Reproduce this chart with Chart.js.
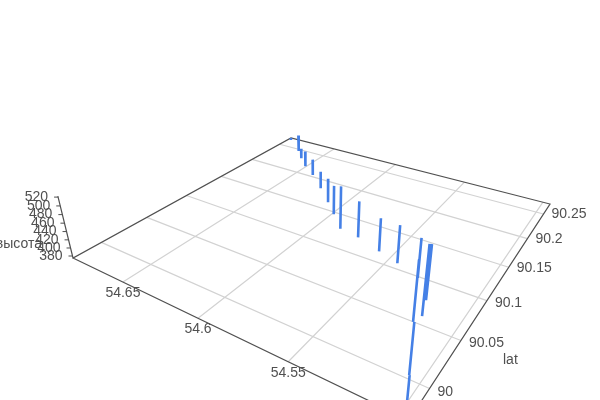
<!DOCTYPE html>
<html>
<head>
<meta charset="utf-8">
<script src="https://cdn.jsdelivr.net/npm/chart.js@4/dist/chart.umd.min.js"></script>
<style>
  html, body { margin: 0; padding: 0; background: #fff; }
  canvas { display: block; }
</style>
</head>
<body>
<canvas id="chart3d" width="600" height="400"></canvas>
<script>
// flight track, one vertical stroke per segment
const segLon = [54.6845, 54.6678, 54.6589, 54.6490, 54.6372, 54.6223, 54.6084, 54.5977, 54.5860, 54.5731, 54.5569, 54.5439, 54.5298, 54.5175, 54.5050, 54.4979, 54.5159, 54.5192];
const segLat = [90.2637, 90.2425, 90.2279, 90.2135, 90.2003, 90.1799, 90.1597, 90.1434, 90.1253, 90.1214, 90.1121, 90.1049, 90.0957, 90.0476, 90.0015, 89.9747, 90.0567, 90.0745];
const segAltLow = [380, 380, 380, 380, 380, 380, 380, 380, 380, 380, 380, 380, 380, 380, 380, 380, 380, 380];
const segAltHigh = [387, 428, 409, 424, 425, 427, 444, 455, 487, 470, 461, 471, 473, 513, 488, 454, 534, 504];

const lonTicks = [54.65, 54.6, 54.55, 54.5];
const lonLabels = ["54.65", "54.6", "54.55"];
const latTicks = [90, 90.05, 90.1, 90.15, 90.2, 90.25];
const latLabels = ["90", "90.05", "90.1", "90.15", "90.2", "90.25"];
const altTicks = [380, 400, 420, 440, 460, 480, 500, 520];

// extent of the scene box
const lonMax = 54.6886, lonMin = 54.4958;
const latMin = 89.9721, latMax = 90.2724;
const altMin = 375, altMax = 522;

/* ========== CAMERA (floor corners + vertical vanishing point) ========== */
const cL = [73, 258], cB = [409, 420], cR = [550, 204], cT = [291, 138];
const vanish = [322, 1274];
const altScale = -0.00039;

const dx1 = cB[0] - cR[0], dx2 = cT[0] - cR[0], sx = cL[0] - cB[0] + cR[0] - cT[0];
const dy1 = cB[1] - cR[1], dy2 = cT[1] - cR[1], sy = cL[1] - cB[1] + cR[1] - cT[1];
const den = dx1 * dy2 - dx2 * dy1;
const g = (sx * dy2 - dx2 * sy) / den;
const h = (dx1 * sy - sx * dy1) / den;

function project(lon, lat, alt) {
  const s = (lonMax - lon) / (lonMax - lonMin);
  const t = (lat - latMin) / (latMax - latMin);
  const c = (alt - altMin) * altScale;
  const px = (cB[0] - cL[0] + g * cB[0]) * s + (cT[0] - cL[0] + h * cT[0]) * t + cL[0] + c * vanish[0];
  const py = (cB[1] - cL[1] + g * cB[1]) * s + (cT[1] - cL[1] + h * cT[1]) * t + cL[1] + c * vanish[1];
  const w = g * s + h * t + 1 + c;
  return { x: px / w, y: py / w };
}

const gap = { x: NaN, y: NaN };

const barPoints = [];
segLon.forEach((lon, i) => {
  barPoints.push(project(lon, segLat[i], segAltHigh[i]), project(lon, segLat[i], segAltLow[i]), gap);
});

const gridPoints = [];
lonTicks.forEach(v => gridPoints.push(project(v, latMin, altMin), project(v, latMax, altMin), gap));
latTicks.forEach(v => gridPoints.push(project(lonMin, v, altMin), project(lonMax, v, altMin), gap));

const boxPoints = [
  project(lonMax, latMin, altMin), project(lonMin, latMin, altMin),
  project(lonMin, latMax, altMin), project(lonMax, latMax, altMin),
  project(lonMax, latMin, altMin), project(lonMax, latMin, altMax)
];

const altTickPoints = [];
altTicks.forEach(v => {
  const p = project(lonMax, latMin, v);
  altTickPoints.push(p, { x: p.x - 4, y: p.y }, gap);
});

function lineSet(data, color, width, order) {
  return { data, borderColor: color, borderWidth: width, pointRadius: 0, showLine: true, spanGaps: false, tension: 0, order };
}

/* ========== LABELS ========== */
// the lat labels sit a little lower near the front of the box
const latLabelDrop = [4, 3, 2, 1, 1, 0];

const sceneLabels = {
  id: "sceneLabels",
  afterDatasetsDraw(chart) {
    const ctx = chart.ctx;
    ctx.save();
    ctx.font = "14px 'Liberation Sans'";
    ctx.fillStyle = "#505050";
    ctx.textBaseline = "middle";

    ctx.textAlign = "center";
    lonLabels.forEach((txt, i) => {
      const p = project(lonTicks[i], latMin, altMin);
      ctx.fillText(txt, p.x, p.y + 11);
    });

    ctx.textAlign = "left";
    latLabels.forEach((txt, i) => {
      const p = project(lonMin, latTicks[i], altMin);
      ctx.fillText(txt, p.x + 8, p.y + latLabelDrop[i]);
    });
    ctx.fillText("lat", 503, 360);

    ctx.textAlign = "right";
    altTicks.forEach(v => {
      const p = project(lonMax, latMin, v);
      ctx.fillText(String(v), p.x - 10, p.y);
    });
    ctx.fillText("высота", 42, 244);
    ctx.restore();
  }
};

new Chart(document.getElementById("chart3d").getContext("2d"), {
  type: "scatter",
  data: {
    datasets: [
      lineSet(barPoints, "#4580e6", 2.6, 0),
      lineSet(boxPoints, "#505050", 1.2, 1),
      lineSet(altTickPoints, "#505050", 1, 1),
      lineSet(gridPoints, "#d2d2d2", 1.2, 2)
    ]
  },
  options: {
    responsive: false,
    animation: false,
    layout: { padding: 0 },
    plugins: { legend: { display: false }, title: { display: false }, tooltip: { enabled: false } },
    scales: {
      x: { type: "linear", min: 0, max: 600, display: false },
      y: { type: "linear", min: 0, max: 400, reverse: true, display: false }
    }
  },
  plugins: [sceneLabels]
});
</script>
</body>
</html>
